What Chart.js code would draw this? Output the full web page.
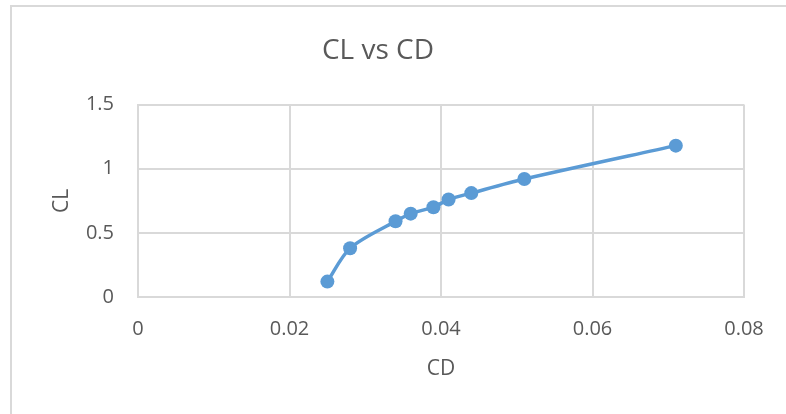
<!DOCTYPE html>
<html>
<head>
<meta charset="utf-8">
<title>CL vs CD</title>
<script src="https://cdn.jsdelivr.net/npm/chart.js@4"></script>
<style>
  html, body {
    margin: 0;
    padding: 0;
    background: #fff;
    overflow: hidden;
  }
  .chart-frame {
    position: absolute;
    left: 10px;
    top: 5px;
    width: 800px;
    height: 440px;
    border-left: 2px solid #d9d9d9;
    border-top: 2px solid #d9d9d9;
  }
  #polarChart {
    position: absolute;
    left: 12px;
    top: 7px;
  }
</style>
</head>
<body>
<div class="chart-frame"></div>
<canvas id="polarChart" width="781" height="407"></canvas>

<script>
// Data Start
const cdValues = [0.025, 0.028, 0.034, 0.036, 0.039, 0.041, 0.044, 0.051, 0.071];
const clValues = [0.12, 0.38, 0.59, 0.65, 0.70, 0.76, 0.81, 0.92, 1.18];
const xTicks = [0, 0.02, 0.04, 0.06, 0.08];
const yTicks = [0, 0.5, 1, 1.5];
// Data End

const points = cdValues.map((cd, i) => ({ x: cd, y: clValues[i] }));

Chart.defaults.font.family = "'Open Sans', sans-serif";
Chart.defaults.color = "#595959";

const gridColor = "#d9d9d9";
const ctx = document.getElementById("polarChart").getContext("2d");

let polarChart = new Chart(ctx, {
    type: "scatter",
    data: {
        datasets: [{
            label: "CL",
            data: points,
            showLine: true,
            borderColor: "#5b9bd5",
            backgroundColor: "#5b9bd5",
            borderWidth: 3.5,
            tension: 0.3,
            pointRadius: 7,
            pointBorderWidth: 0,
            pointHoverRadius: 7
        }]
    },
    options: {
        responsive: false,
        animation: false,
        layout: {
            padding: { left: 0, right: 49, top: 0, bottom: 0 }
        },
        scales: {
            x: {
                type: "linear",
                min: xTicks[0],
                max: xTicks[xTicks.length - 1],
                afterBuildTicks: function(axis) {
                    axis.ticks = xTicks.map(v => ({ value: v }));
                },
                afterFit: function(axis) {
                    axis.height = 117;
                },
                grid: { color: gridColor, lineWidth: 2, drawTicks: false },
                border: { color: gridColor, width: 2 },
                ticks: {
                    padding: 20,
                    font: { size: 20 },
                    callback: function(value) {
                        return parseFloat(value.toFixed(3)).toString();
                    }
                },
                title: {
                    display: true,
                    text: "CD",
                    font: { size: 21 },
                    padding: { top: 0, bottom: 32 }
                }
            },
            y: {
                type: "linear",
                min: yTicks[0],
                max: yTicks[yTicks.length - 1],
                afterBuildTicks: function(axis) {
                    axis.ticks = yTicks.map(v => ({ value: v }));
                },
                afterFit: function(axis) {
                    axis.width = 126;
                },
                grid: { color: gridColor, lineWidth: 2, drawTicks: false },
                border: { color: gridColor, width: 2 },
                ticks: {
                    padding: 24,
                    font: { size: 20 },
                    callback: function(value) {
                        return parseFloat(value.toFixed(2)).toString();
                    }
                },
                title: {
                    display: true,
                    text: "CL",
                    font: { size: 21 },
                    padding: { top: 37, bottom: 0 }
                }
            }
        },
        plugins: {
            legend: { display: false },
            tooltip: { enabled: false },
            title: {
                display: true,
                text: "CL vs CD",
                color: "#595959",
                font: { size: 28, weight: "normal" },
                padding: { top: 27, bottom: 37 }
            }
        }
    }
});
</script>
</body>
</html>
